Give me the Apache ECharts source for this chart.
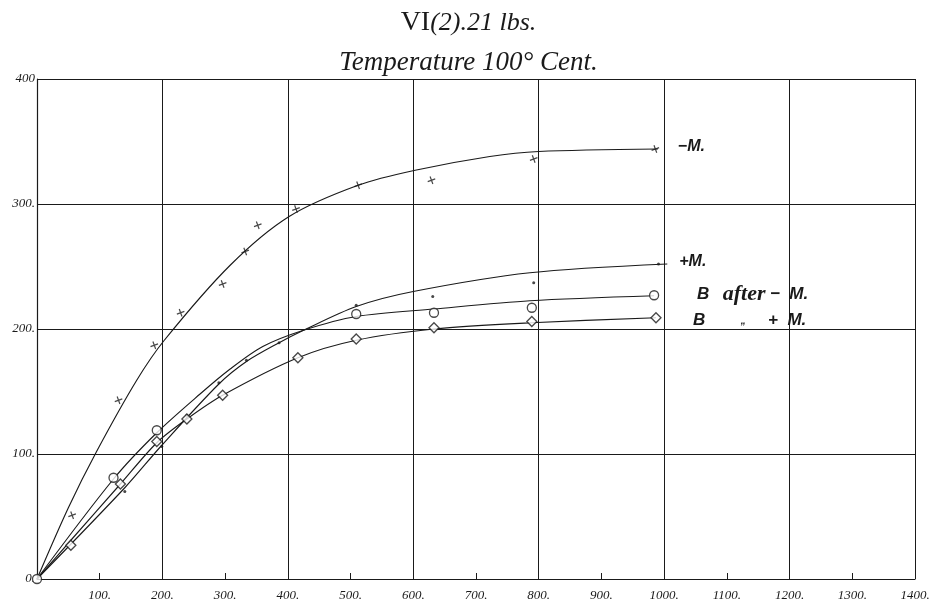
<!DOCTYPE html>
<html><head><meta charset="utf-8">
<script src="https://cdn.jsdelivr.net/npm/echarts@6/dist/echarts.min.js"></script>
<style>html,body{margin:0;padding:0;background:#fff}#c{width:937px;height:605px}</style>
</head><body><div id="c"></div>
<script>
// ---- data ----
const yTickValues = [0, 100, 200, 300, 400];
const yTickLabels = ['0.', '100.', '200.', '300.', '400'];
const xTickValues = [100,200,300,400,500,600,700,800,900,1000,1100,1200,1300,1400];
const xTickLabels = ['100.','200.','300.','400.','500.','600.','700.','800.','900.','1000.','1100.','1200.','1300.','1400.'];

// observed points
const minusMPoints = [[56,51],[130,143],[187,187],[229,213],[296,236],[332,262],[352,283],[413,296],[512,315],[629,319],[792,336],[986,344]];
const plusMPoints = [[140,70],[199,106],[239,131],[290,157],[334,175],[386,189],[509,219],[631,226],[792,237],[991,252]];
const bAfterMinusPoints = [[0,0],[122,81],[191,119],[509,212],[633,213],[789,217],[984,227]];
const bPlusPoints = [[54,27],[133,76],[191,110],[239,128],[296,147],[416,177],[509,192],[633,201],[789,206],[987,209]];

// hand-drawn curves
const minusMCurve = [[0,0],[50,57],[95,102],[159,159],[203,191],[308,251],[402,290],[512,315],[603,327],[722,338],[800,342],[990,344]];
const plusMCurve = [[0,0],[140,73],[199,107],[290,156],[334,174],[386,189],[425,199],[509,218],[600,230],[786,245],[1005,252]];
const bAfterMinusCurve = [[0,0],[122,80],[191,117],[260,148],[308,168],[360,186],[425,199],[509,210],[633,216],[786,222.6],[984,226.6]];
const bPlusCurve = [[0,0],[54,31],[133,76],[191,109],[239,128],[296,147],[416,177],[509,191],[633,200],[789,205],[987,209]];

const curveLabels = ['−M.', '+M.', 'B after − M.', 'B „ + M.'];

const chart = echarts.init(document.getElementById('c'), null, {renderer:'canvas'});
const ink = '#1a1a1a';
const axisFont = {fontFamily:'Liberation Serif', fontStyle:'italic', fontSize:13, color:ink};
const labFont = {fontFamily:'Liberation Sans', fontStyle:'italic', fontWeight:'bold', fontSize:16, color:ink};

function lineSeries(data, label, offset, rich){
  return {type:'line', data, smooth:0.3, symbol:'none', silent:true,
    lineStyle:{color:ink, width:1.15}, z:2,
    endLabel:{show:true, formatter: label, offset, ...labFont, rich: rich||{}}};
}
const serifI = {fontFamily:'Liberation Serif', fontStyle:'italic', fontSize:22, color:ink};
const sansBI = {fontFamily:'Liberation Sans', fontStyle:'italic', fontWeight:'bold', fontSize:17, color:ink};

chart.setOption({
  animation:false,
  backgroundColor:'#fff',
  title:{
    left:'center', top:4, itemGap:12,
    text:'{a|VI}{b|(2).21 lbs.}',
    subtext:'Temperature 100° Cent.',
    textStyle:{fontWeight:'normal', rich:{
      a:{fontFamily:'Liberation Serif', fontSize:28, color:ink},
      b:{fontFamily:'Liberation Serif', fontStyle:'italic', fontSize:26, color:ink}
    }},
    subtextStyle:{fontFamily:'Liberation Serif', fontStyle:'italic', fontSize:27, color:ink}
  },
  grid:{left:37, right:22, top:79, bottom:26, containLabel:false},
  xAxis:[
    {type:'value', min:0, max:1400, interval:200, position:'bottom',
     axisLine:{show:true, lineStyle:{color:ink, width:1.2}}, axisTick:{show:false}, axisLabel:{show:false},
     splitLine:{show:true, lineStyle:{color:ink, width:1}}},
    {type:'value', min:0, max:1400, interval:100, position:'bottom',
     axisLine:{show:false}, splitLine:{show:false},
     axisTick:{show:true, inside:true, length:6, lineStyle:{color:ink}},
     axisLabel:{show:true, margin:10, ...axisFont,
       formatter:v=>{const i=xTickValues.indexOf(v); return i>=0?xTickLabels[i]:'';}}}
  ],
  yAxis:{type:'value', min:0, max:400, interval:100,
    axisLine:{show:true, lineStyle:{color:ink, width:1.2}}, axisTick:{show:false},
    splitLine:{show:true, lineStyle:{color:ink, width:1}},
    axisLabel:{margin:2, ...axisFont,
      formatter:v=>{const i=yTickValues.indexOf(v); return i>=0?yTickLabels[i]:'';}}},
  series:[
    lineSeries(minusMCurve, curveLabels[0], [12,-2]),
    lineSeries(plusMCurve, curveLabels[1], [4,-2]),
    lineSeries(bAfterMinusCurve, '{s|B}   {i|after} {s|−  M.}', [35,-1], {s:sansBI, i:serifI}),
    lineSeries(bPlusCurve, '{s|B}        {t|„}     {s|+  M.}', [29,3], {s:sansBI, t:{fontSize:10, color:ink}}),
    {type:'scatter', data:minusMPoints, symbol:'path://M5,0L5,10M0,5L10,5', symbolSize:8, symbolRotate:20,
     itemStyle:{color:'none', borderColor:ink, borderWidth:1.2}, z:3},
    {type:'scatter', data:plusMPoints, symbol:'circle', symbolSize:3,
     itemStyle:{color:ink}, z:3},
    {type:'scatter', data:bAfterMinusPoints, symbol:'circle', symbolSize:9,
     itemStyle:{color:'#fff', borderColor:ink, borderWidth:1.3}, z:3},
    {type:'scatter', data:bPlusPoints, symbol:'diamond', symbolSize:10,
     itemStyle:{color:'#fff', borderColor:ink, borderWidth:1.3}, z:3}
  ]
});
</script></body></html>
